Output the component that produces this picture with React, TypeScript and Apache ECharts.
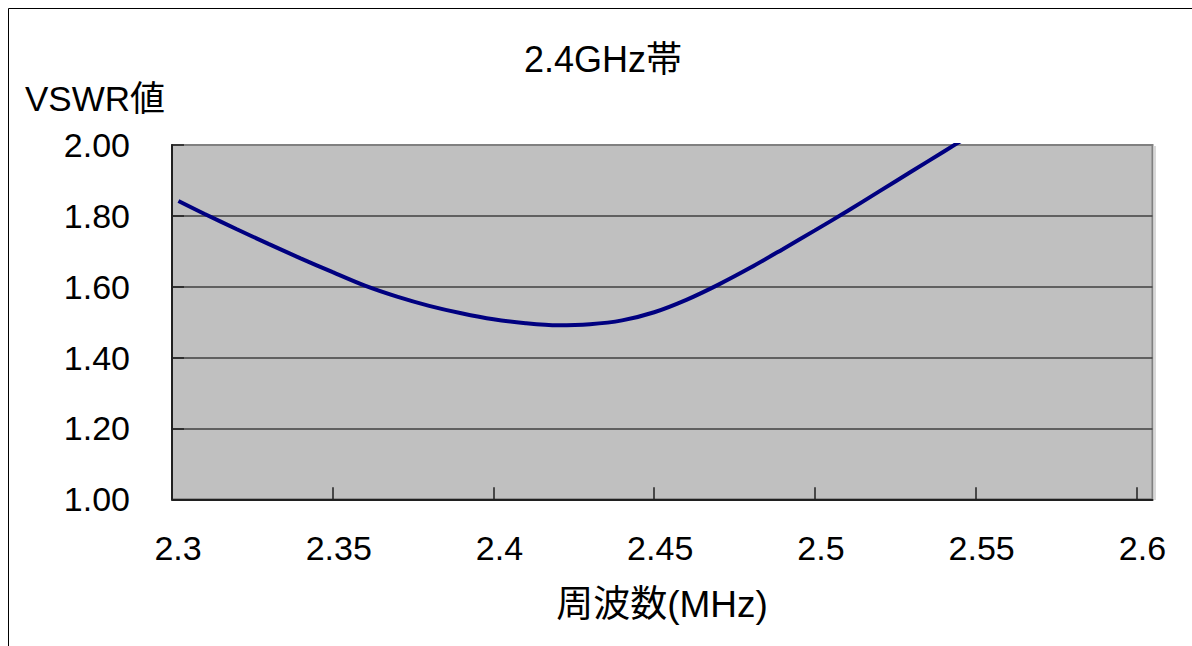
import React, { useEffect, useRef } from "react";
import * as echarts from "echarts";

const titleText = "2.4GHz帯";
const yAxisTitle = "VSWR値";
const xAxisTitle = "周波数(MHz)";

const freq = [
  2.302, 2.31, 2.32, 2.33, 2.34, 2.35, 2.36, 2.37, 2.38, 2.39, 2.4, 2.41, 2.42, 2.43,
  2.44, 2.45, 2.46, 2.47, 2.48, 2.49, 2.5, 2.51, 2.52, 2.53, 2.54, 2.55,
];
const vswr = [
  1.842, 1.806, 1.763, 1.721, 1.68, 1.641, 1.603, 1.572, 1.546, 1.525, 1.508, 1.497, 1.491, 1.494,
  1.505, 1.528, 1.563, 1.606, 1.654, 1.706, 1.759, 1.813, 1.869, 1.925, 1.981, 2.037,
];

const xTicks = [2.3, 2.35, 2.4, 2.45, 2.5, 2.55, 2.6];
const yMin = 1.0;
const yMax = 2.0;
const yStep = 0.2;

const FONT = "Liberation Sans, Arial, Noto Sans CJK JP, sans-serif";

export default function App() {
  const ref = useRef<HTMLDivElement>(null);
  useEffect(() => {
    document.body.style.overflow = "hidden";
    const chart = echarts.init(ref.current!, null, { renderer: "svg" });
    chart.setOption({
      animation: false,
      backgroundColor: "#ffffff",
      textStyle: { fontFamily: FONT },
      grid: {
        left: 172,
        top: 145,
        right: 39.5,
        bottom: 146.7,
        show: true,
        backgroundColor: "#C0C0C0",
        borderColor: "#808080",
        borderWidth: 2,
      },
      xAxis: {
        type: "value",
        min: 2.3,
        max: 2.605,
        interval: 0.05,
        axisLine: { show: true, lineStyle: { color: "#202020", width: 2 } },
        axisTick: {
          show: true,
          inside: true,
          length: 12,
          customValues: xTicks,
          lineStyle: { color: "#202020", width: 1.5 },
        },
        axisLabel: {
          customValues: xTicks,
          fontSize: 34,
          color: "#000",
          fontFamily: FONT,
          margin: 32,
          padding: [0, 0, 0, 12],
          formatter: (v: number) => String(Math.round(v * 100) / 100),
        },
        splitLine: { show: false },
      },
      yAxis: {
        type: "value",
        min: yMin,
        max: yMax,
        interval: yStep,
        axisLine: { show: true, lineStyle: { color: "#202020", width: 2 } },
        axisTick: {
          show: true,
          inside: true,
          length: 12,
          lineStyle: { color: "#202020", width: 1.5 },
        },
        axisLabel: {
          fontSize: 34,
          color: "#000",
          fontFamily: FONT,
          margin: 42,
          formatter: (v: number) => v.toFixed(2),
        },
        splitLine: {
          show: true,
          showMaxLine: false,
          lineStyle: { color: "#404040", width: 1.5 },
        },
      },
      series: [
        {
          type: "line",
          data: freq.map((f, i) => [f, vswr[i]]),
          smooth: 0.3,
          showSymbol: false,
          clip: true,
          lineStyle: { color: "#000080", width: 4 },
        },
      ],
      graphic: [
        {
          type: "line",
          shape: { x1: 8.5, y1: 8.5, x2: 1192, y2: 8.5 },
          style: { stroke: "#000", lineWidth: 1 },
        },
        {
          type: "line",
          shape: { x1: 8.5, y1: 8.5, x2: 8.5, y2: 646 },
          style: { stroke: "#000", lineWidth: 1 },
        },
        {
          type: "rect",
          shape: { x: 1153.5, y: 146, width: 2.5, height: 354 },
          style: { fill: "#D8D8D8" },
        },
        {
          type: "text",
          x: 603,
          y: 59,
          style: {
            text: titleText,
            fontSize: 36,
            fontFamily: FONT,
            fill: "#000",
            align: "center",
            verticalAlign: "middle",
          },
        },
        {
          type: "text",
          x: 95,
          y: 98,
          style: {
            text: yAxisTitle,
            fontSize: 35,
            fontFamily: FONT,
            fill: "#000",
            align: "center",
            verticalAlign: "middle",
          },
        },
        {
          type: "text",
          x: 662,
          y: 604,
          style: {
            text: xAxisTitle,
            fontSize: 37,
            fontFamily: FONT,
            fill: "#000",
            align: "center",
            verticalAlign: "middle",
          },
        },
      ],
    });
    return () => chart.dispose();
  }, []);
  return (
    <div
      ref={ref}
      style={{ position: "absolute", left: 0, top: 0, width: 1192, height: 646 }}
    />
  );
}
